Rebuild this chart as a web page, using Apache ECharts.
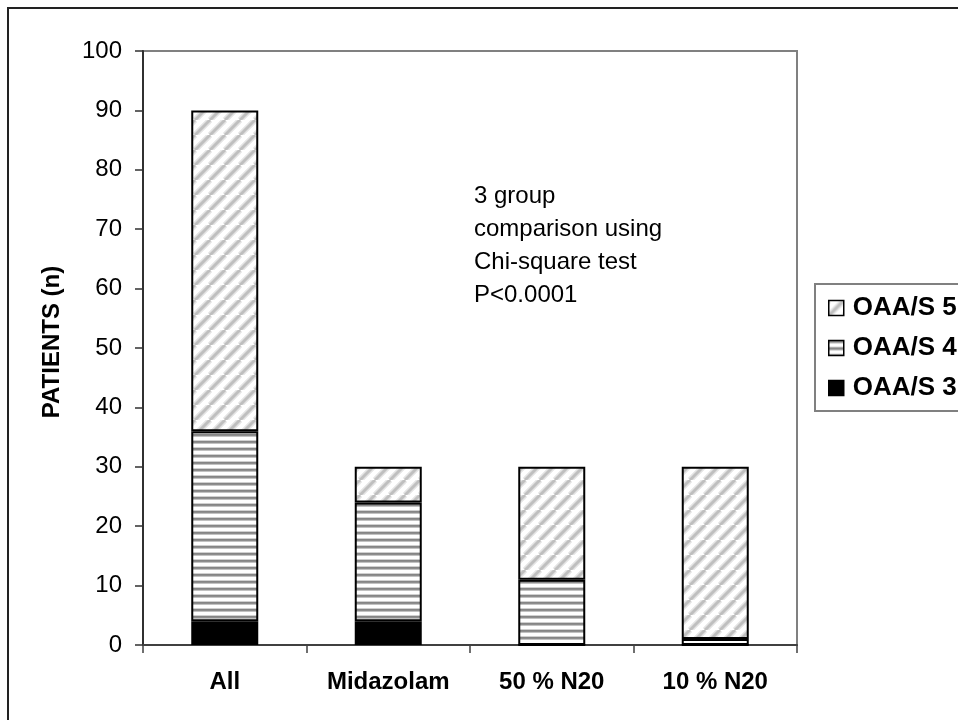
<!DOCTYPE html>
<html>
<head>
<meta charset="utf-8">
<script src="https://cdn.jsdelivr.net/npm/echarts@6/dist/echarts.min.js"></script>
<style>
  html, body { margin: 0; padding: 0; background: #fff; }
  #chart { width: 958px; height: 720px; }
</style>
</head>
<body>
<div id="chart"></div>
<script>
// Sedation scores (OAA/S) per study group
const categories = ['All', 'Midazolam', '50 % N20', '10 % N20'];
const oaas3 = [4, 4, 0, 0];
const oaas4 = [32, 20, 11, 1];
const oaas5 = [54, 6, 19, 29];
const legendOrder = ['OAA/S 5', 'OAA/S 4', 'OAA/S 3'];
const yTicks = { min: 0, max: 100, interval: 10 };
const noteLines = ['3 group', 'comparison using', 'Chi-square test', 'P<0.0001'];

const FONT = 'Liberation Sans, Arial, sans-serif';

// Soft light-grey diagonal hatching
function diagonalPattern() {
  const s = 15;
  const c = document.createElement('canvas');
  c.width = s; c.height = s;
  const g = c.getContext('2d');
  g.fillStyle = '#ffffff';
  g.fillRect(0, 0, s, s);
  const strokes = [[6, '#e4e4e4'], [3, '#bfbfbf']];
  for (const [w, col] of strokes) {
    g.strokeStyle = col;
    g.lineWidth = w;
    for (const dx of [-s, 0, s]) {
      g.beginPath();
      g.moveTo(dx, s);
      g.lineTo(dx + s, 0);
      g.stroke();
    }
  }
  return c;
}

// Grey horizontal banding
function horizontalPattern() {
  const c = document.createElement('canvas');
  c.width = 4; c.height = 7;
  const g = c.getContext('2d');
  const rows = ['#858585', '#8e8e8e', '#c2c2c2', '#ffffff', '#ffffff', '#ffffff', '#d0d0d0'];
  rows.forEach((col, i) => { g.fillStyle = col; g.fillRect(0, i, 4, 1); });
  return c;
}

const chart = echarts.init(document.getElementById('chart'), null, { renderer: 'canvas' });

const barStyle = { borderColor: '#000', borderWidth: 2 };

chart.setOption({
  backgroundColor: '#fff',
  animation: false,
  grid: {
    left: 143, right: 161, top: 51, bottom: 75,
    show: true, borderColor: '#808080', borderWidth: 2, backgroundColor: 'transparent'
  },
  legend: {
    data: legendOrder,
    orient: 'vertical',
    left: 828, top: 295, padding: 0,
    itemWidth: 15, itemHeight: 15, itemGap: 14,
    icon: 'rect',
    itemStyle: { borderColor: '#000', borderWidth: 1.5 },
    textStyle: { fontFamily: FONT, fontSize: 26, fontWeight: 'bold', color: '#000', lineHeight: 26, padding: [0, 0, 0, 4] },
    selectedMode: false
  },
  xAxis: {
    type: 'category',
    data: categories,
    axisLine: { lineStyle: { color: '#404040', width: 2 } },
    axisTick: { show: true, length: 8, lineStyle: { color: '#404040', width: 1.5 }, alignWithLabel: false },
    axisLabel: { fontFamily: FONT, fontSize: 24, fontWeight: 'bold', color: '#000', margin: 25 }
  },
  yAxis: {
    type: 'value',
    min: yTicks.min, max: yTicks.max, interval: yTicks.interval,
    axisLine: { show: true, lineStyle: { color: '#303030', width: 2 } },
    axisTick: { show: true, length: 8, lineStyle: { color: '#303030', width: 1.5 } },
    splitLine: { show: false },
    axisLabel: { fontFamily: FONT, fontSize: 24, color: '#000', margin: 21 }
  },
  series: [
    { name: 'OAA/S 3', type: 'bar', stack: 'n', data: oaas3, barWidth: 67,
      itemStyle: Object.assign({ color: '#000' }, barStyle) },
    { name: 'OAA/S 4', type: 'bar', stack: 'n', data: oaas4, barWidth: 67,
      itemStyle: Object.assign({ color: { image: horizontalPattern(), repeat: 'repeat' } }, barStyle) },
    { name: 'OAA/S 5', type: 'bar', stack: 'n', data: oaas5, barWidth: 67,
      itemStyle: Object.assign({ color: { image: diagonalPattern(), repeat: 'repeat' } }, barStyle) }
  ],
  graphic: [
    // outer chart frame
    { type: 'rect', silent: true, z: -1,
      shape: { x: 8, y: 8, width: 1000, height: 800 },
      style: { fill: null, stroke: '#222', lineWidth: 2 } },
    // legend frame
    { type: 'rect', silent: true,
      shape: { x: 815, y: 284, width: 200, height: 127 },
      style: { fill: null, stroke: '#808080', lineWidth: 2 } },
    // y-axis title
    { type: 'text', silent: true,
      x: 52, y: 342, rotation: Math.PI / 2,
      style: { text: 'PATIENTS (n)', fontFamily: FONT, fontSize: 24, fontWeight: 'bold', fill: '#000',
               align: 'center', verticalAlign: 'middle' } },
    // statistics note
    { type: 'text', silent: true,
      x: 474, y: 180,
      style: { text: noteLines.join('\n'), fontFamily: FONT, fontSize: 24, fill: '#000',
               lineHeight: 33, align: 'left', verticalAlign: 'top' } }
  ]
});
</script>
</body>
</html>
